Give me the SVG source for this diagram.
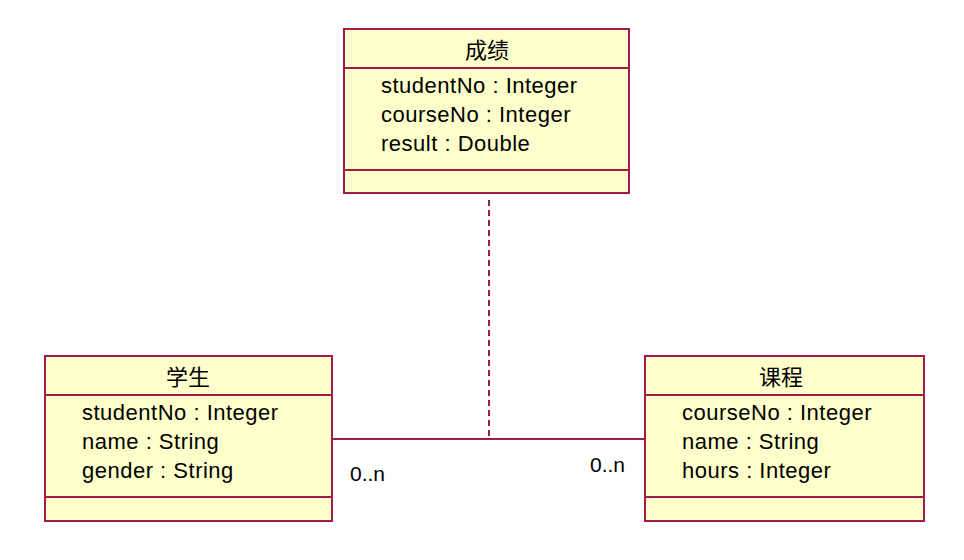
<svg xmlns="http://www.w3.org/2000/svg" width="964" height="560" viewBox="0 0 964 560">
<style>
.box{fill:#FFFFCC;stroke:#A3194B;stroke-width:2}
.div{stroke:#A3194B;stroke-width:2}
.title{font-family:"Liberation Sans","Noto Sans CJK SC",sans-serif;font-size:22px;fill:#000;text-anchor:middle}
.attr{font-family:"Liberation Sans",sans-serif;font-size:22px;fill:#000;letter-spacing:0.5px}
.mult{font-family:"Liberation Sans",sans-serif;font-size:21px;fill:#000}
.conn{stroke:#A3194B;stroke-width:2;fill:none}
</style>
<rect width="964" height="560" fill="#FFFFFF"/>
<g id="connectors">
<line class="conn" x1="333" y1="439" x2="645" y2="439"/>
<line class="conn" x1="489" y1="200" x2="489" y2="439" stroke-dasharray="6,4"/>
<text class="mult" x="350" y="481">0..n</text>
<text class="mult" x="590" y="472">0..n</text>
</g>
<g id="chengji">
<rect class="box" x="344" y="29" width="285" height="164"/>
<line class="div" x1="344" y1="68" x2="629" y2="68"/>
<line class="div" x1="344" y1="170" x2="629" y2="170"/>
<text class="title" x="487" y="58">成绩</text>
<text class="attr" x="381" y="93">studentNo : Integer</text>
<text class="attr" x="381" y="122">courseNo : Integer</text>
<text class="attr" x="381" y="151">result : Double</text>
</g>
<g id="xuesheng">
<rect class="box" x="45" y="356" width="287" height="165"/>
<line class="div" x1="45" y1="395" x2="332" y2="395"/>
<line class="div" x1="45" y1="497" x2="332" y2="497"/>
<text class="title" x="188" y="385">学生</text>
<text class="attr" x="82" y="420">studentNo : Integer</text>
<text class="attr" x="82" y="449">name : String</text>
<text class="attr" x="82" y="478">gender : String</text>
</g>
<g id="kecheng">
<rect class="box" x="645" y="356" width="279" height="165"/>
<line class="div" x1="645" y1="395" x2="924" y2="395"/>
<line class="div" x1="645" y1="497" x2="924" y2="497"/>
<text class="title" x="781" y="385">课程</text>
<text class="attr" x="682" y="420">courseNo : Integer</text>
<text class="attr" x="682" y="449">name : String</text>
<text class="attr" x="682" y="478">hours : Integer</text>
</g>
</svg>
